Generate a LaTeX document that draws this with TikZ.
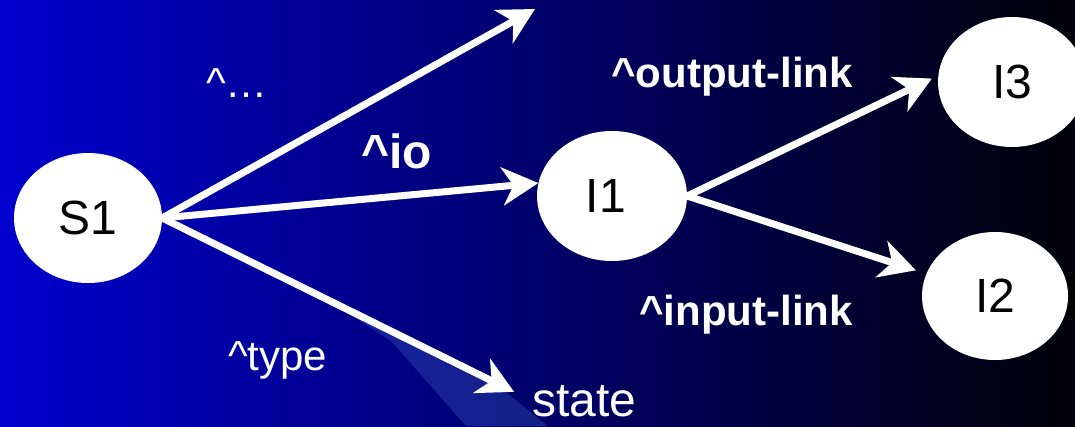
\documentclass[tikz,border=0pt]{standalone}
\usepackage{fontspec}
\setmainfont{Liberation Sans}
\usetikzlibrary{arrows.meta,shapes.geometric}

\definecolor{bgleft}{RGB}{0,0,206}
\definecolor{bgright}{RGB}{0,0,8}
\definecolor{glint}{RGB}{70,110,200}

\begin{document}
\begin{tikzpicture}[x=1pt,y=-1pt,
  entity/.style={ellipse, fill=white, inner sep=0pt, text=black,
    font=\fontsize{48}{52}\selectfont},
  lbl/.style={text=white, inner sep=0pt, anchor=base west,
    font=\fontsize{42}{46}\selectfont},
  blbl/.style={lbl, font=\fontsize{42}{46}\selectfont\bfseries},
  link/.style={draw=white, line width=7pt,
    -{Stealth[length=36pt,width=38pt,inset=11pt]}},
]
% background
\shade[left color=bgleft, right color=bgright] (0,0) rectangle (1075,426);
\useasboundingbox (0,0) rectangle (1075,426);

% light streak under the type arrow
\fill[glint, opacity=0.3] (300,282) -- (508,394) -- (548,426) -- (466,426)
  -- (392,342) -- cycle;

% objects
\node[entity, minimum width=148pt, minimum height=130pt] (S1) at (88,218) {S1};
\node[entity, minimum width=150pt, minimum height=130pt] (I1) at (612,196) {\hspace*{-12pt}I1};
\node[entity, minimum width=148pt, minimum height=130pt] (I3) at (1012,82) {I3};
\node[entity, minimum width=146pt, minimum height=128pt] (I2) at (995,296) {I2};

% texts
\node[lbl] (dots) at (206,97) {\textasciicircum…};
\node[blbl, font=\fontsize{48}{52}\selectfont\bfseries] (io) at (361,168) {\textasciicircum io};
\node[lbl] (type) at (228,370) {\textasciicircum type};
\node[lbl, font=\fontsize{48}{52}\selectfont] (state) at (532,416) {state};
\node[blbl] (out) at (611,87) {\textasciicircum output-link};
\node[blbl] (in) at (639,325) {\textasciicircum input-link};

\coordinate (more) at (535,9);

% links
\draw[link] (S1.east) -- (more);
\draw[link] (S1.east) -- (I1.170);
\draw[link, shorten >=20pt] (S1.east) -- (state.west);
\draw[link, shorten >=7pt] (I1.east) -- (I3.175);
\draw[link, shorten >=11pt] (I1.east) -- (I2);
\end{tikzpicture}
\end{document}
